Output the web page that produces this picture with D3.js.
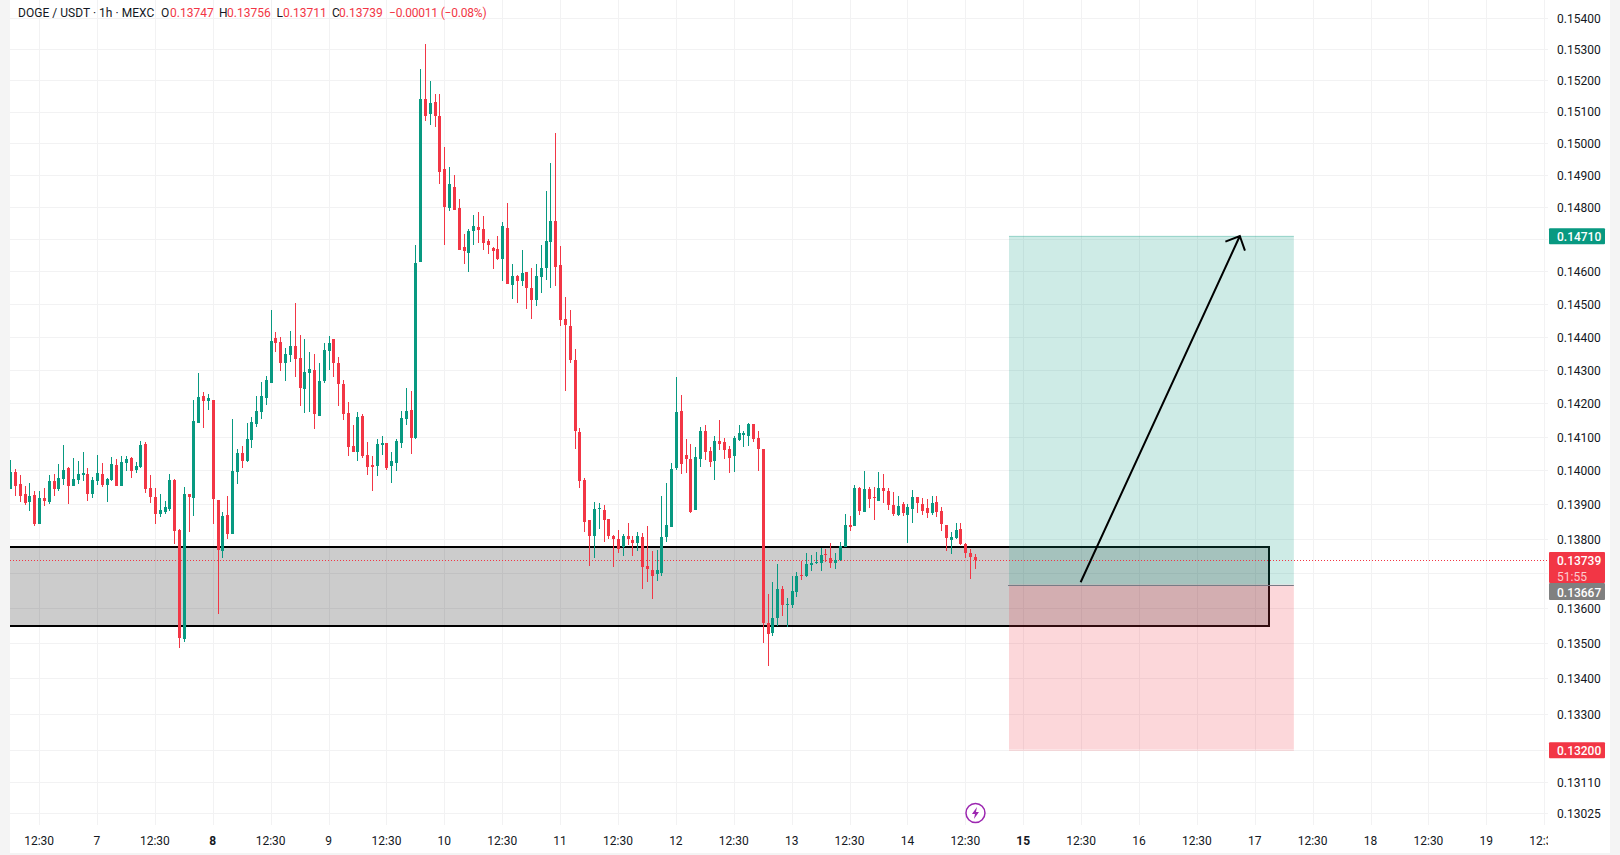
<!DOCTYPE html>
<html>
<head>
<meta charset="utf-8">
<title>DOGE / USDT 1h</title>
<script src="https://cdn.jsdelivr.net/npm/d3@7"></script>
<style>
	html, body { margin: 0; padding: 0; background: #f4f4f4; }
	svg { display: block; }
	text { font-family: Roboto, sans-serif; }
	.price-axis text, .time-axis text { font-size: 12px; fill: #131722; }
</style>
</head>
<body>
<div id="chart"></div>
<script>
// prices are written in 1/100000 USDT, like the quotes on the chart
var opens = [13946,13996,13960,13931,13907,13928,13843,13919,13907,13969,13946,13975,14007,13954,13972,13987,13990,13931,13969,13990,13957,13972,14016,13954,14022,14037,14001,14010,14079,13949,13922,13872,13878,13887,13972,13825,13511,13931,13919,14141,14221,14206,14209,13913,13764,13869,13814,13996,14052,14028,14090,14138,14174,14215,14260,14396,14384,14321,14345,14372,14336,14242,14290,14299,14162,14266,14357,14393,14321,14257,14171,14072,14055,14162,14046,14016,14013,14075,14081,14013,14022,14081,14153,14179,14096,14629,15140,15092,15130,15086,14918,14796,14862,14796,14675,14656,14725,14737,14731,14693,14672,14669,14638,14734,14558,14586,14570,14598,14549,14512,14583,14610,14690,14756,14619,14454,14433,14330,14114,13972,13855,13808,13887,13884,13858,13808,13799,13776,13808,13796,13788,13805,13721,13709,13698,13701,13805,13834,14007,14176,14046,14034,13884,14034,14117,14058,14028,14087,14084,14064,14043,14090,14105,14102,14138,14096,14064,13557,13529,13571,13655,13609,13609,13646,13695,13692,13724,13730,13730,13756,13744,13730,13738,13776,13840,13837,13948,13878,13946,13922,13910,13949,13940,13899,13869,13901,13869,13887,13922,13901,13890,13875,13907,13881,13840,13796,13802,13828,13785,13759,13747];
var highs = [14031,14004,13987,13954,13963,13940,13940,13949,13987,13990,14019,14076,14010,14037,14028,14055,14007,13981,14046,14022,13978,14040,14034,14043,14043,14040,14025,14087,14084,13987,13949,13931,13910,13990,13975,13828,13951,13931,14209,14290,14233,14227,14209,13913,13878,13925,14153,14064,14073,14141,14159,14221,14263,14281,14481,14415,14399,14366,14418,14503,14405,14393,14354,14348,14321,14381,14402,14393,14339,14269,14203,14135,14173,14168,14084,14043,14093,14102,14081,14055,14093,14176,14245,14236,14681,15236,15316,15197,15156,15156,14988,14925,14899,14824,14715,14731,14775,14784,14771,14700,14675,14709,14753,14812,14622,14589,14666,14598,14610,14622,14681,14849,14937,15032,14678,14521,14482,14363,14126,13978,13855,13907,13904,13899,13858,13811,13825,13814,13846,13808,13820,13817,13837,13765,13767,13925,13963,14022,14278,14224,14093,14078,14070,14129,14135,14070,14102,14151,14096,14072,14102,14135,14117,14141,14138,14117,14064,13640,13675,13727,13663,13629,13692,13703,13735,13759,13753,13761,13773,13770,13788,13759,13790,13872,13866,13957,13951,13999,13951,13951,13996,13990,13949,13937,13925,13907,13901,13942,13922,13919,13916,13925,13925,13893,13840,13820,13846,13846,13788,13770,13756];
var lows = [13946,13925,13907,13899,13881,13837,13843,13896,13901,13925,13940,13957,13901,13954,13960,13969,13910,13919,13957,13951,13907,13969,13954,13954,13999,13978,13993,14007,13934,13904,13843,13863,13872,13881,13785,13486,13503,13820,13866,14141,14126,14179,13843,13583,13744,13799,13814,13960,14007,14025,14066,14129,14153,14194,14260,14354,14296,14266,14324,14278,14191,14170,14173,14123,14162,14260,14299,14278,14191,14150,14043,14055,14028,14037,13987,13940,13984,14046,14002,13963,13999,14067,14135,14049,14093,14629,15070,15057,15051,14871,14681,14787,14790,14666,14623,14598,14681,14687,14666,14653,14607,14635,14570,14562,14515,14503,14555,14485,14454,14494,14533,14573,14549,14555,14433,14236,14321,14064,13948,13820,13721,13744,13828,13790,13799,13718,13759,13750,13782,13750,13765,13655,13675,13626,13678,13692,13790,13834,14001,13990,13993,13875,13884,14010,14031,14010,13973,14061,14034,13993,13995,14087,14070,14072,14084,13999,13500,13434,13520,13549,13577,13546,13600,13632,13680,13689,13706,13727,13706,13732,13715,13712,13735,13776,13822,13837,13869,13878,13890,13855,13910,13904,13884,13866,13866,13866,13788,13846,13875,13869,13860,13869,13863,13822,13764,13755,13799,13782,13744,13684,13711];
var closes = [13996,13954,13925,13904,13925,13843,13919,13910,13969,13946,13978,14001,13954,13975,13990,13993,13931,13972,13993,13957,13975,14019,13954,14025,14034,13999,14013,14076,13946,13922,13872,13884,13893,13972,13822,13514,13931,13922,14147,14218,14206,14215,13916,13767,13866,13814,13999,14052,14028,14094,14144,14177,14221,14269,14387,14381,14321,14348,14372,14333,14245,14293,14302,14167,14266,14360,14381,14321,14257,14167,14069,14055,14159,14043,14010,14010,14078,14081,14007,14028,14087,14156,14176,14096,14626,15140,15086,15127,15086,14909,14799,14871,14790,14666,14663,14725,14740,14728,14687,14681,14663,14638,14740,14562,14586,14570,14595,14549,14512,14586,14610,14693,14756,14613,14451,14436,14330,14117,13969,13849,13808,13887,13890,13855,13808,13799,13770,13808,13799,13788,13808,13718,13712,13692,13709,13805,13840,14004,14173,14019,14034,13878,14040,14117,14055,14025,14087,14078,14061,14037,14096,14111,14111,14138,14093,14064,13557,13526,13571,13655,13609,13612,13649,13692,13692,13727,13730,13732,13753,13753,13730,13738,13779,13840,13834,13948,13881,13946,13916,13919,13949,13940,13899,13872,13896,13875,13893,13922,13904,13881,13875,13904,13878,13843,13802,13805,13825,13785,13759,13747,13739];

var priceTicks = [0.154,0.153,0.152,0.151,0.150,0.149,0.148,0.147,0.146,0.145,0.144,0.143,0.142,0.141,0.140,0.139,0.138,0.137,0.136,0.135,0.134,0.133,0.132,0.1311,0.13025];
// these tick labels sit behind the price tags, so only their grid line shows
var coveredTicks = [0.147,0.137,0.132];
var timeTickBars = [6,18,30,42,54,66,78,90,102,114,126,138,150,162,174,186,198,210,222,234,246,258,270,282,294,306,318];
var timeTickLabels = ["12:30","7","12:30","8","12:30","9","12:30","10","12:30","11","12:30","12","12:30","13","12:30","14","12:30","15","12:30","16","12:30","17","12:30","18","12:30","19","12:30"];
var boldTimeLabels = ["8","15"];

var legendParts = [
	{text: "DOGE / USDT · 1h · MEXC", at: 18, up: false, spacing: 0.03},
	{text: "O", at: 161, up: false}, {text: "0.13747", at: 170, up: true},
	{text: "H", at: 219, up: false}, {text: "0.13756", at: 227, up: true},
	{text: "L", at: 276.5, up: false}, {text: "0.13711", at: 283, up: true},
	{text: "C", at: 332, up: false}, {text: "0.13739", at: 339, up: true},
	{text: "−0.00011 (−0.08%)", at: 389, up: true, spacing: -0.2}
];

// drawings on the chart, in bar index and price
var zoneTop = 0.13776, zoneBottom = 0.13549, zoneEndBar = 260.8;
var entryPrice = 0.13667, targetPrice = 0.1471, stopPrice = 0.132;
var positionStartBar = 206.95, positionEndBar = 266;
var arrowStart = {bar: 221.8, price: 0.13674};
var arrowEnd = {bar: 254.8, price: 0.14709};

var UP = "#089981", DOWN = "#F23645", GRID = "#f2f2f3";
var width = 1620, height = 855;
var paneLeft = 10, paneRight = 1548, paneBottom = 825, stripRight = 1610, stripBottom = 853;

var toPrice = function (v) { return v / 100000; };
var bars = opens.map(function (o, i) {
	return {i: i, o: toPrice(o), h: toPrice(highs[i]), l: toPrice(lows[i]), c: toPrice(closes[i])};
});
var lastClose = bars[bars.length - 1].c;

var x = d3.scaleLinear().domain([0, 318]).range([10.66, 1544.7]);
var y = d3.scaleLog().domain([0.13025, 0.154]).range([813, 18.2]);

var svg = d3.select("#chart").append("svg").attr("width", width).attr("height", height);

svg.append("rect").attr("x", paneLeft).attr("y", 0)
	.attr("width", stripRight - paneLeft).attr("height", stripBottom).attr("fill", "#ffffff");

var defs = svg.append("defs");
defs.append("clipPath").attr("id", "pane").append("rect")
	.attr("x", paneLeft).attr("y", 0).attr("width", paneRight - paneLeft).attr("height", paneBottom);
defs.append("clipPath").attr("id", "timeclip").append("rect")
	.attr("x", paneLeft).attr("y", paneBottom).attr("width", paneRight - paneLeft).attr("height", stripBottom - paneBottom);

var pane = svg.append("g").attr("clip-path", "url(#pane)");

// grid
pane.append("g").selectAll("line").data(priceTicks).enter().append("line")
	.attr("x1", paneLeft).attr("x2", paneRight)
	.attr("y1", function (d) { return Math.round(y(d)) + 0.5; })
	.attr("y2", function (d) { return Math.round(y(d)) + 0.5; })
	.attr("stroke", GRID);
pane.append("g").selectAll("line").data(timeTickBars).enter().append("line")
	.attr("y1", 0).attr("y2", paneBottom)
	.attr("x1", function (d) { return Math.floor(x(d)) + 0.5; })
	.attr("x2", function (d) { return Math.floor(x(d)) + 0.5; })
	.attr("stroke", GRID);

// support zone
pane.append("rect")
	.attr("x", paneLeft - 4).attr("y", Math.round(y(zoneTop)))
	.attr("width", Math.round(x(zoneEndBar)) - paneLeft + 4).attr("height", Math.round(y(zoneBottom)) - Math.round(y(zoneTop)))
	.attr("fill", "rgba(0,0,0,0.2)").attr("stroke", "#000000").attr("stroke-width", 2);

// long position
var posX = x(positionStartBar), posW = x(positionEndBar) - x(positionStartBar);
pane.append("rect")
	.attr("x", posX).attr("y", y(targetPrice)).attr("width", posW).attr("height", y(entryPrice) - y(targetPrice))
	.attr("fill", "rgba(8,153,129,0.2)");
pane.append("rect")
	.attr("x", posX).attr("y", y(entryPrice)).attr("width", posW).attr("height", y(stopPrice) - y(entryPrice))
	.attr("fill", "rgba(242,54,69,0.2)");
pane.append("line").attr("x1", posX).attr("x2", posX + posW)
	.attr("y1", Math.round(y(targetPrice)) + 0.5).attr("y2", Math.round(y(targetPrice)) + 0.5)
	.attr("stroke", "rgba(8,153,129,0.25)");
pane.append("line").attr("x1", posX).attr("x2", posX + posW)
	.attr("y1", Math.round(y(stopPrice)) + 0.5).attr("y2", Math.round(y(stopPrice)) + 0.5)
	.attr("stroke", "rgba(242,54,69,0.15)");
pane.append("line").attr("x1", posX - 1).attr("x2", posX + posW)
	.attr("y1", Math.round(y(entryPrice)) + 0.5).attr("y2", Math.round(y(entryPrice)) + 0.5)
	.attr("stroke", "#787b86");

// last price line
pane.append("line").attr("x1", paneLeft).attr("x2", paneRight)
	.attr("y1", Math.round(y(lastClose)) + 0.5).attr("y2", Math.round(y(lastClose)) + 0.5)
	.attr("stroke", DOWN).attr("stroke-dasharray", "1 2");

// candles
var candle = pane.append("g").attr("shape-rendering", "crispEdges").selectAll("g").data(bars).enter().append("g")
	.attr("fill", function (d) { return d.c >= d.o ? UP : DOWN; });
candle.append("rect")
	.attr("x", function (d) { return Math.floor(x(d.i)); })
	.attr("width", 1)
	.attr("y", function (d) { return Math.round(y(d.h)); })
	.attr("height", function (d) { return Math.max(1, Math.round(y(d.l)) - Math.round(y(d.h))); });
candle.append("rect")
	.attr("x", function (d) { return Math.floor(x(d.i)) - 1; })
	.attr("width", 3)
	.attr("y", function (d) { return Math.round(y(Math.max(d.o, d.c))); })
	.attr("height", function (d) { return Math.max(1, Math.round(y(Math.min(d.o, d.c))) - Math.round(y(Math.max(d.o, d.c)))); });

// arrow
var ax0 = x(arrowStart.bar), ay0 = y(arrowStart.price), ax1 = x(arrowEnd.bar), ay1 = y(arrowEnd.price);
var back = Math.atan2(ay0 - ay1, ax0 - ax1);
var headLen = 15.5, headAngle = 44 * Math.PI / 180;
var arrowPath = d3.path();
arrowPath.moveTo(ax0, ay0);
arrowPath.lineTo(ax1, ay1);
arrowPath.moveTo(ax1 + headLen * Math.cos(back - headAngle), ay1 + headLen * Math.sin(back - headAngle));
arrowPath.lineTo(ax1, ay1);
arrowPath.lineTo(ax1 + headLen * Math.cos(back + headAngle), ay1 + headLen * Math.sin(back + headAngle));
pane.append("path").attr("d", arrowPath.toString())
	.attr("fill", "none").attr("stroke", "#000000").attr("stroke-width", 2);

// lightning badge on the last bar
var badge = svg.append("g").attr("transform", "translate(" + x(200) + ",813)");
badge.append("circle").attr("r", 9.5).attr("fill", "#ffffff").attr("stroke", "#9c27b0").attr("stroke-width", 1.5);
badge.append("path").attr("d", "M1.5,-6 L-3.5,1 L-0.5,1 L-1.5,6 L3.5,-1 L0.5,-1 Z").attr("fill", "#9c27b0");

// axes
var priceAxis = d3.axisRight(y).tickValues(priceTicks.filter(function (d) { return coveredTicks.indexOf(d) < 0; }))
	.tickFormat(d3.format(".5f")).tickSize(0).tickPadding(9);
var priceG = svg.append("g").attr("class", "price-axis").attr("transform", "translate(1548,0.5)").call(priceAxis);
priceG.select(".domain").remove();

var timeAxis = d3.axisBottom(x).tickValues(timeTickBars)
	.tickFormat(function (d, i) { return timeTickLabels[i]; }).tickSize(0).tickPadding(11);
var timeG = svg.append("g").attr("clip-path", "url(#timeclip)").append("g")
	.attr("class", "time-axis").attr("transform", "translate(-1," + paneBottom + ")").call(timeAxis);
timeG.select(".domain").remove();
timeG.selectAll("text").attr("font-weight", function (d, i) {
	return boldTimeLabels.indexOf(timeTickLabels[i]) >= 0 ? "bold" : "normal";
});

// price labels
var priceLabel = function (top, h, fill, text, textDrop) {
	svg.append("rect").attr("x", 1549).attr("y", top).attr("width", 56).attr("height", h).attr("rx", 1).attr("fill", fill);
	svg.append("text").attr("x", 1557).attr("y", top + textDrop).attr("font-size", 12).attr("font-weight", 500).attr("fill", "#ffffff").text(text);
};
priceLabel(y(targetPrice) - 7.5, 16, UP, d3.format(".5f")(targetPrice), 12.5);
priceLabel(552, 31, DOWN, d3.format(".5f")(lastClose), 13);
svg.append("text").attr("x", 1557).attr("y", 581).attr("font-size", 12).attr("fill", "rgba(255,255,255,0.75)").text("51:55");
priceLabel(583, 17, "#808080", d3.format(".5f")(entryPrice), 14);
priceLabel(y(stopPrice) - 7.5, 16, DOWN, d3.format(".5f")(stopPrice), 13);

// legend
svg.append("g").selectAll("text").data(legendParts).enter().append("text")
	.attr("x", function (d) { return d.at; })
	.attr("y", 16.5)
	.attr("font-size", 12)
	.attr("letter-spacing", function (d) { return d.spacing || 0; })
	.attr("fill", function (d) { return d.up ? DOWN : "#131722"; })
	.text(function (d) { return d.text; });
</script>
</body>
</html>
